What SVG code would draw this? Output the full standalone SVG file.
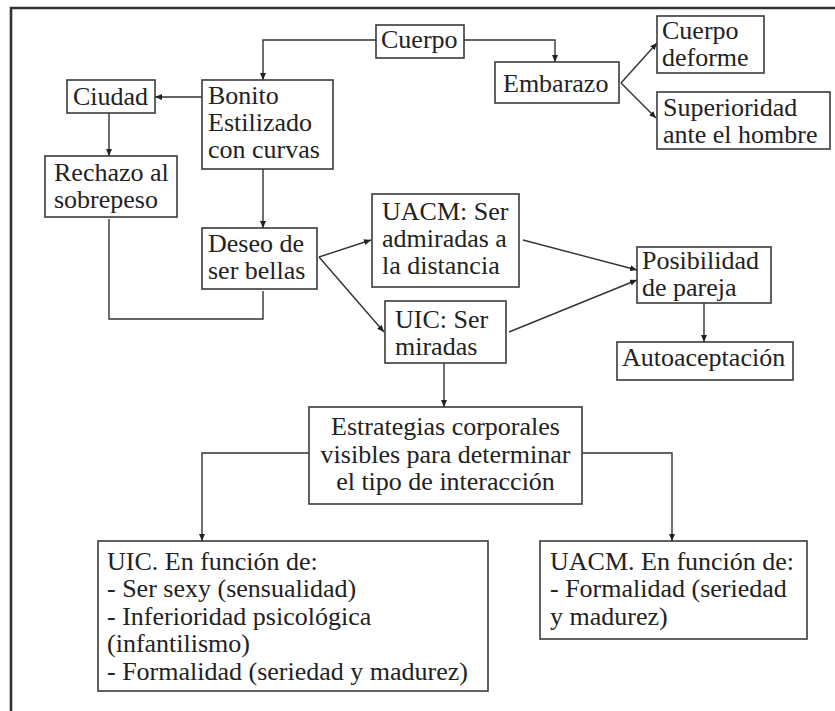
<svg xmlns="http://www.w3.org/2000/svg" width="835" height="711" viewBox="0 0 835 711">
<style>
.box{fill:#fff;stroke:#3a3a3a;stroke-width:1.6}
.t{font-family:"Liberation Serif","Times New Roman",serif;font-size:26px;fill:#222}
.c{fill:none;stroke:#333;stroke-width:1.4}
.frame{fill:none;stroke:#333;stroke-width:2.6}
</style>
<defs>
<marker id="ah" markerUnits="userSpaceOnUse" markerWidth="8" markerHeight="6" refX="7" refY="3" orient="auto">
<path d="M0,0 L7,3 L0,6 z" fill="#222"/>
</marker>
</defs>
<rect width="835" height="711" fill="#fff"/>
<path class="frame" d="M11,711 V8 H835"/>
<g id="connectors">
<path class="c" d="M376,40 H263 V80" marker-end="url(#ah)"/>
<path class="c" d="M464,40 H555 V62" marker-end="url(#ah)"/>
<path class="c" d="M621,83 L657,43" marker-end="url(#ah)"/>
<path class="c" d="M621,83 L656,118" marker-end="url(#ah)"/>
<path class="c" d="M202,97 H155" marker-end="url(#ah)"/>
<path class="c" d="M109,113 V156" marker-end="url(#ah)"/>
<path class="c" d="M263,169 V228" marker-end="url(#ah)"/>
<path class="c" d="M109,219 V319 H263 V291"/>
<path class="c" d="M319,257 L371,240" marker-end="url(#ah)"/>
<path class="c" d="M319,257 L384,332" marker-end="url(#ah)"/>
<path class="c" d="M523,240 L637,270" marker-end="url(#ah)"/>
<path class="c" d="M509,332 L637,280" marker-end="url(#ah)"/>
<path class="c" d="M704,303 V342" marker-end="url(#ah)"/>
<path class="c" d="M444,363 V407" marker-end="url(#ah)"/>
<path class="c" d="M309,453 H202 V541" marker-end="url(#ah)"/>
<path class="c" d="M582,453 H672 V541" marker-end="url(#ah)"/>
</g>
<g id="cuerpo">
<rect class="box" x="376" y="25" width="88" height="33"/>
<text class="t" x="381" y="48">Cuerpo</text>
</g>
<g id="embarazo">
<rect class="box" x="495" y="62" width="124" height="41"/>
<text class="t" x="503" y="92">Embarazo</text>
</g>
<g id="cuerpo-deforme">
<rect class="box" x="657" y="16" width="107" height="57"/>
<text class="t" x="662" y="39">Cuerpo</text>
<text class="t" x="662" y="66">deforme</text>
</g>
<g id="superioridad">
<rect class="box" x="657" y="92" width="173" height="57"/>
<text class="t" x="663" y="116">Superioridad</text>
<text class="t" x="663" y="143">ante el hombre</text>
</g>
<g id="ciudad">
<rect class="box" x="67" y="80" width="88" height="33"/>
<text class="t" x="73" y="105">Ciudad</text>
</g>
<g id="bonito">
<rect class="box" x="202" y="80" width="131" height="89"/>
<text class="t" x="208" y="104">Bonito</text>
<text class="t" x="208" y="131">Estilizado</text>
<text class="t" x="208" y="158">con curvas</text>
</g>
<g id="rechazo">
<rect class="box" x="45" y="156" width="132" height="61"/>
<text class="t" x="54" y="181">Rechazo al</text>
<text class="t" x="54" y="208">sobrepeso</text>
</g>
<g id="deseo">
<rect class="box" x="202" y="228" width="115" height="61"/>
<text class="t" x="208" y="252">Deseo de</text>
<text class="t" x="208" y="279">ser bellas</text>
</g>
<g id="uacm-ser">
<rect class="box" x="372" y="194" width="147" height="93"/>
<text class="t" x="382" y="220">UACM: Ser</text>
<text class="t" x="382" y="247">admiradas a</text>
<text class="t" x="382" y="274">la distancia</text>
</g>
<g id="uic-ser">
<rect class="box" x="385" y="301" width="121" height="62"/>
<text class="t" x="395" y="328">UIC: Ser</text>
<text class="t" x="395" y="355">miradas</text>
</g>
<g id="posibilidad">
<rect class="box" x="637" y="247" width="134" height="56"/>
<text class="t" x="642" y="269">Posibilidad</text>
<text class="t" x="642" y="296">de pareja</text>
</g>
<g id="autoaceptacion">
<rect class="box" x="617" y="342" width="176" height="38"/>
<text class="t" x="622" y="366">Autoaceptación</text>
</g>
<g id="estrategias">
<rect class="box" x="309" y="407" width="273" height="97"/>
<text class="t" x="445.5" y="435" text-anchor="middle">Estrategias corporales</text>
<text class="t" x="445.5" y="463" text-anchor="middle">visibles para determinar</text>
<text class="t" x="445.5" y="490" text-anchor="middle">el tipo de interacción</text>
</g>
<g id="uic-funcion">
<rect class="box" x="98" y="541" width="390" height="150"/>
<text class="t" x="107" y="570">UIC. En función de:</text>
<text class="t" x="107" y="597">- Ser sexy (sensualidad)</text>
<text class="t" x="107" y="625">- Inferioridad psicológica</text>
<text class="t" x="107" y="652">(infantilismo)</text>
<text class="t" x="107" y="680">- Formalidad (seriedad y madurez)</text>
</g>
<g id="uacm-funcion">
<rect class="box" x="540" y="541" width="267" height="98"/>
<text class="t" x="550" y="570">UACM. En función de:</text>
<text class="t" x="550" y="597">- Formalidad (seriedad</text>
<text class="t" x="550" y="625">y madurez)</text>
</g>
</svg>
